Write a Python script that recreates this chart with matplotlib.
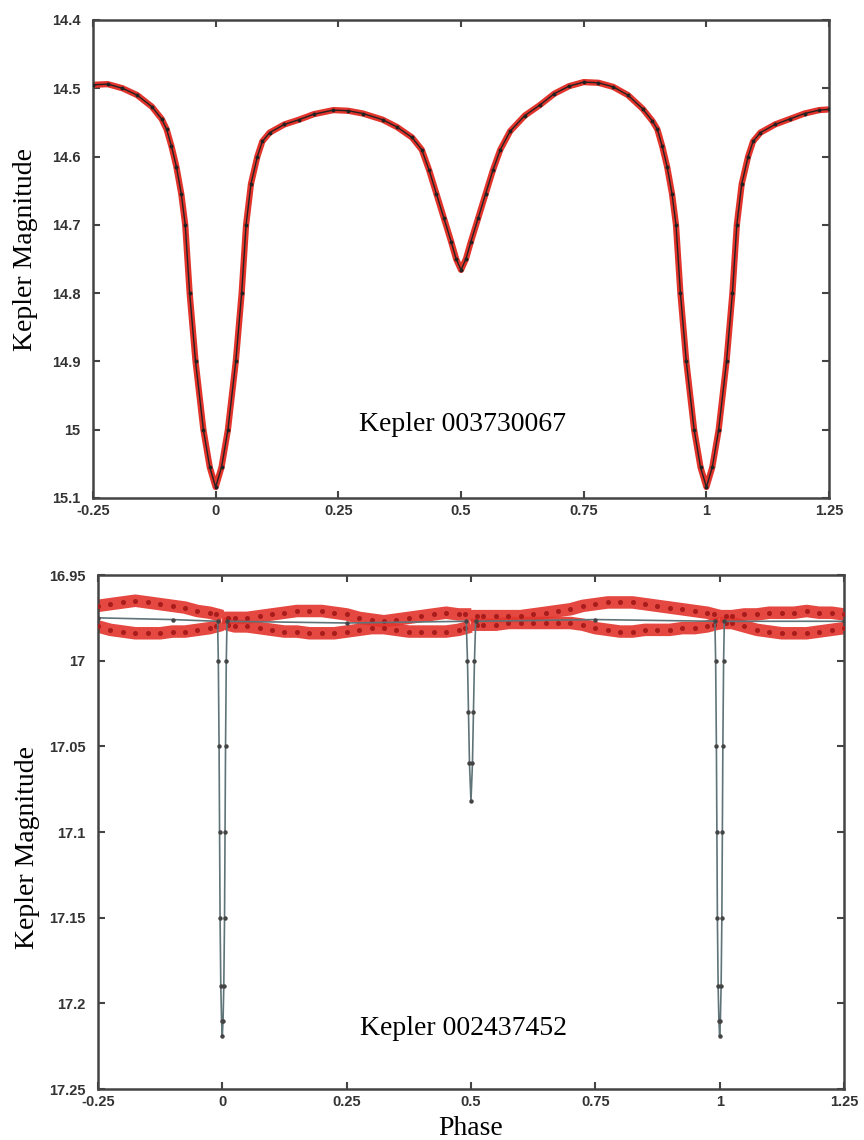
import numpy as np
import matplotlib
matplotlib.use('Agg')
import matplotlib.pyplot as plt

nan = np.nan

# ---- Kepler 003730067 (folded light curve) ----
top_phase = [-0.25, -0.22, -0.19, -0.16, -0.13, -0.11, -0.10, -0.09, -0.08, -0.07,
             -0.062, -0.053, -0.041, -0.025, -0.012, 0.0, 0.012, 0.025, 0.041, 0.053,
             0.062, 0.072, 0.085, 0.095, 0.11, 0.14, 0.17, 0.20, 0.24, 0.27,
             0.30, 0.34, 0.37, 0.40, 0.42, 0.435, 0.45, 0.465, 0.48, 0.49,
             0.50, 0.51, 0.52, 0.535, 0.55, 0.565, 0.58, 0.60, 0.63, 0.66,
             0.69, 0.72, 0.75, 0.78, 0.81, 0.84, 0.87, 0.89, 0.90, 0.91,
             0.92, 0.93, 0.938, 0.947, 0.959, 0.975, 0.988, 1.0, 1.012, 1.025,
             1.041, 1.053, 1.062, 1.072, 1.085, 1.095, 1.11, 1.14, 1.17, 1.20,
             1.23, 1.25]
top_mag = [14.495, 14.494, 14.500, 14.510, 14.527, 14.545, 14.560, 14.585, 14.615, 14.655,
           14.700, 14.800, 14.900, 15.000, 15.055, 15.084, 15.055, 15.000, 14.900, 14.800,
           14.700, 14.640, 14.600, 14.578, 14.565, 14.553, 14.546, 14.538, 14.532, 14.533,
           14.537, 14.546, 14.557, 14.572, 14.590, 14.620, 14.655, 14.690, 14.725, 14.750,
           14.766, 14.750, 14.725, 14.690, 14.655, 14.620, 14.590, 14.563, 14.540, 14.525,
           14.508, 14.497, 14.491, 14.492, 14.498, 14.510, 14.530, 14.548, 14.560, 14.585,
           14.615, 14.655, 14.700, 14.800, 14.900, 15.000, 15.055, 15.084, 15.055, 15.000,
           14.900, 14.800, 14.700, 14.640, 14.600, 14.578, 14.565, 14.553, 14.545, 14.537,
           14.532, 14.531]

# ---- Kepler 002437452 ----
# two strands of observations (outside eclipses), nan = eclipse gap
band_phase = [-0.25, -0.225, -0.2, -0.175, -0.15, -0.125, -0.1, -0.075, -0.05, -0.025, -0.012, 0.0,
              0.012, 0.025, 0.05, 0.075, 0.1, 0.125, 0.15, 0.175, 0.2, 0.225, 0.25, 0.275,
              0.3, 0.325, 0.35, 0.375, 0.4, 0.425, 0.45, 0.475, 0.488, 0.5,
              0.512, 0.525, 0.55, 0.575, 0.6, 0.625, 0.65, 0.675, 0.7, 0.725, 0.75, 0.775,
              0.8, 0.825, 0.85, 0.875, 0.9, 0.925, 0.95, 0.975, 0.988, 1.0,
              1.012, 1.025, 1.05, 1.075, 1.1, 1.125, 1.15, 1.175, 1.2, 1.225, 1.25]
band_upper = [16.968, 16.967, 16.966, 16.965, 16.966, 16.967, 16.968, 16.969, 16.971, 16.972, 16.973, nan,
              16.975, 16.975, 16.975, 16.974, 16.973, 16.972, 16.971, 16.971, 16.971, 16.972, 16.973, 16.975,
              16.976, 16.977, 16.976, 16.975, 16.974, 16.973, 16.972, 16.973, 16.973, nan,
              16.974, 16.974, 16.974, 16.974, 16.974, 16.973, 16.972, 16.971, 16.970, 16.968, 16.967, 16.966,
              16.966, 16.966, 16.967, 16.968, 16.969, 16.970, 16.971, 16.972, 16.973, nan,
              16.974, 16.974, 16.973, 16.973, 16.972, 16.972, 16.972, 16.971, 16.972, 16.972, 16.973]
band_lower = [16.980, 16.982, 16.983, 16.984, 16.984, 16.984, 16.983, 16.983, 16.982, 16.981, 16.980, nan,
              16.979, 16.980, 16.980, 16.981, 16.982, 16.983, 16.983, 16.984, 16.984, 16.984, 16.983, 16.982,
              16.981, 16.981, 16.982, 16.983, 16.983, 16.983, 16.983, 16.982, 16.981, nan,
              16.979, 16.979, 16.979, 16.978, 16.978, 16.978, 16.978, 16.978, 16.978, 16.979, 16.981, 16.982,
              16.983, 16.983, 16.982, 16.982, 16.982, 16.981, 16.981, 16.980, 16.979, nan,
              16.978, 16.978, 16.980, 16.982, 16.983, 16.984, 16.984, 16.984, 16.983, 16.982, 16.981]

# model curve with the three narrow eclipses
model_phase = [-0.25, -0.1, -0.0095, -0.008, -0.0065, -0.0055, -0.0045, -0.003, -0.0015, 0.0,
               0.0015, 0.003, 0.0045, 0.0055, 0.0065, 0.008, 0.0095, 0.25, 0.4905, 0.493,
               0.495, 0.497, 0.5, 0.503, 0.505, 0.507, 0.5095, 0.75, 0.9905, 0.992,
               0.9935, 0.9945, 0.9955, 0.997, 0.9985, 1.0, 1.0015, 1.003, 1.0045, 1.0055,
               1.0065, 1.008, 1.0095, 1.25]
model_mag = [16.975, 16.976, 16.977, 17.000, 17.050, 17.100, 17.150, 17.190, 17.210, 17.219,
             17.210, 17.190, 17.150, 17.100, 17.050, 17.000, 16.977, 16.978, 16.977, 17.000,
             17.030, 17.060, 17.082, 17.060, 17.030, 17.000, 16.977, 16.976, 16.977, 17.000,
             17.050, 17.100, 17.150, 17.190, 17.210, 17.219, 17.210, 17.190, 17.150, 17.100,
             17.050, 17.000, 16.977, 16.977]

x_ticks = [-0.25, 0, 0.25, 0.5, 0.75, 1, 1.25]
x_labels = ['-0.25', '0', '0.25', '0.5', '0.75', '1', '1.25']
top_yticks = [14.4, 14.5, 14.6, 14.7, 14.8, 14.9, 15.0, 15.1]
top_ylabels = ['14.4', '14.5', '14.6', '14.7', '14.8', '14.9', '15', '15.1']
bot_yticks = [16.95, 17.0, 17.05, 17.1, 17.15, 17.2, 17.25]
bot_ylabels = ['16.95', '17', '17.05', '17.1', '17.15', '17.2', '17.25']

RED = '#e3342c'
SERIF = ['Liberation Serif', 'DejaVu Serif']
TICKFONT = {'family': 'Liberation Sans', 'weight': 'bold', 'size': 10.5, 'color': '#333333'}


def style_axes(ax, yticks, ylabels):
    ax.set_xlim(-0.25, 1.25)
    ax.set_xticks(x_ticks)
    ax.set_xticklabels(x_labels, fontdict=TICKFONT)
    ax.set_yticks(yticks)
    ax.set_yticklabels(ylabels, fontdict=TICKFONT)
    ax.set_ylim(yticks[-1], yticks[0])
    ax.tick_params(direction='in', length=5, width=1.5, color='#444444',
                   top=True, right=True)
    ax.tick_params(axis='y', pad=9)
    ax.tick_params(axis='x', pad=4)
    for s in ax.spines.values():
        s.set_color('#444444')
        s.set_linewidth(1.8)
    ax.set_ylabel('Kepler Magnitude', family=SERIF, fontsize=20, labelpad=4)


fig = plt.figure(figsize=(8.64, 11.4), dpi=100)

# 上图
ax1 = fig.add_axes([0.1076, 0.5632, 0.852, 0.4193])
ax1.plot(top_phase, top_mag, '-', color=RED, lw=4.5, solid_capstyle='round', zorder=2)
ax1.plot(top_phase, top_mag, '-', color='#222222', lw=1.0, zorder=3)
ax1.plot(top_phase, top_mag, 'o', color='#222222', ms=1.8, zorder=4)
style_axes(ax1, top_yticks, top_ylabels)
ax1.yaxis.set_label_coords(-0.075, 0.52)
ax1.text(0.504, 14.993, 'Kepler 003730067', family=SERIF, fontsize=20,
         ha='center', va='center')

# 下图
ax2 = fig.add_axes([0.1134, 0.0447, 0.8634, 0.4509])
for band in (band_upper, band_lower):
    ax2.plot(band_phase, band, '-', color=RED, lw=9, alpha=0.9, zorder=2)
    ax2.plot(band_phase, band, 'o', ms=2.6, color='#a81c1c', zorder=3)
ax2.plot(model_phase, model_mag, '-', color='#5f7478', lw=1.2, zorder=4)
ax2.plot(model_phase, model_mag, 'o', color='#444444', ms=2.2, zorder=5)
style_axes(ax2, bot_yticks, bot_ylabels)
ax2.yaxis.set_label_coords(-0.078, 0.47)
ax2.set_xlabel('Phase', family=SERIF, fontsize=20, labelpad=5)
ax2.text(0.484, 17.2145, 'Kepler 002437452', family=SERIF, fontsize=20,
         ha='center', va='center')

fig.savefig('out.png', dpi=100)
